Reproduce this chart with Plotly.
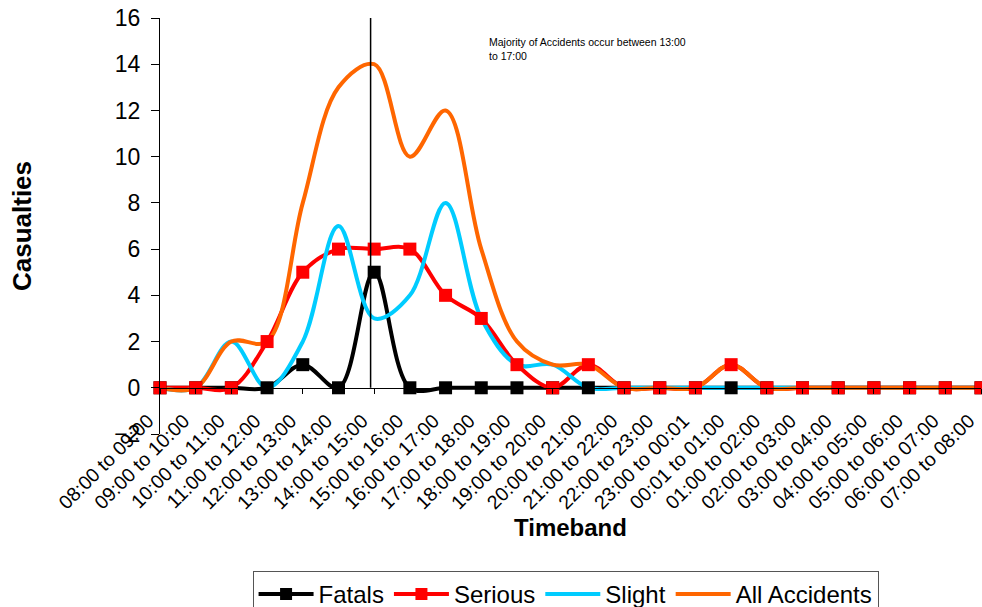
import plotly.graph_objects as go

# Casualties by one-hour timeband
timebands = [
    "08:00 to 09:00", "09:00 to 10:00", "10:00 to 11:00", "11:00 to 12:00",
    "12:00 to 13:00", "13:00 to 14:00", "14:00 to 15:00", "15:00 to 16:00",
    "16:00 to 17:00", "17:00 to 18:00", "18:00 to 19:00", "19:00 to 20:00",
    "20:00 to 21:00", "21:00 to 22:00", "22:00 to 23:00", "23:00 to 00:01",
    "00:01 to 01:00", "01:00 to 02:00", "02:00 to 03:00", "03:00 to 04:00",
    "04:00 to 05:00", "05:00 to 06:00", "06:00 to 07:00", "07:00 to 08:00",
]
fatals = [0, 0, 0, 0, 1, 0, 5, 0, 0, 0, 0, 0, 0, 0, 0, 0, 0, 0, 0, 0, 0, 0, 0, 0]
serious = [0, 0, 0, 2, 5, 6, 6, 6, 4, 3, 1, 0, 1, 0, 0, 0, 1, 0, 0, 0, 0, 0, 0, 0]
slight = [0, 0, 2, 0, 2, 7, 3, 4, 8, 3, 1, 1, 0, 0, 0, 0, 0, 0, 0, 0, 0, 0, 0, 0]
all_accidents = [0, 0, 2, 2, 8, 13, 14, 10, 12, 6, 2, 1, 1, 0, 0, 0, 1, 0, 0, 0, 0, 0, 0, 0]

y_ticks = [-2, 0, 2, 4, 6, 8, 10, 12, 14, 16]
divider_x = 5.9  # marker line near the 14:00 to 15:00 band
note_text = "Majority of Accidents occur between 13:00<br>to 17:00"

x_idx = list(range(len(timebands)))

BLACK = "#000000"
RED = "#FF0000"
CYAN = "#00CCFF"
ORANGE = "#FF6600"
FONT = "Liberation Sans, Arial, sans-serif"

fig = go.Figure()

series = [
    ("Fatals", fatals, BLACK, True),
    ("Serious", serious, RED, True),
    ("Slight", slight, CYAN, False),
    ("All Accidents", all_accidents, ORANGE, False),
]

# all smoothed lines first so markers sit on top
for rank, (name, vals, color, has_marker) in enumerate(series, start=1):
    fig.add_trace(go.Scatter(
        x=x_idx, y=vals, name=name, mode="lines",
        line=dict(color=color, width=4, shape="spline", smoothing=1.0),
        showlegend=not has_marker, legendrank=rank, cliponaxis=False,
        hoverinfo="skip",
    ))

# square markers for the two marked series
for rank, (name, vals, color, has_marker) in enumerate(series, start=1):
    if not has_marker:
        continue
    fig.add_trace(go.Scatter(
        x=x_idx, y=vals, name=name, mode="markers",
        marker=dict(symbol="square", size=13, color=color),
        showlegend=False, cliponaxis=False,
    ))
    # legend entry showing line + marker
    fig.add_trace(go.Scatter(
        x=[None], y=[None], name=name, mode="lines+markers",
        line=dict(color=color, width=4),
        marker=dict(symbol="square", size=12, color=color),
        legendrank=rank,
    ))

# vertical divider line from 0 up to the top of the axis
fig.add_shape(type="line", xref="x", yref="y",
              x0=divider_x, x1=divider_x, y0=0, y1=max(y_ticks),
              line=dict(color=BLACK, width=1.5))

fig.add_annotation(
    x=9.15, y=15.3, xref="x", yref="y", text=note_text,
    showarrow=False, xanchor="left", yanchor="top", align="left",
    font=dict(family=FONT, size=10.5, color=BLACK),
)

y_min, y_max = min(y_ticks), max(y_ticks)
x_axis_pos = (0 - y_min) / (y_max - y_min)

fig.update_layout(
    width=982, height=607,
    margin=dict(l=160, r=1, t=18, b=173, autoexpand=False),
    paper_bgcolor="white", plot_bgcolor="white",
    font=dict(family=FONT, color=BLACK),
    showlegend=True,
    legend=dict(
        orientation="h", x=0.494, xanchor="center", y=-0.329, yanchor="top",
        font=dict(family=FONT, size=24, color=BLACK),
        bordercolor="#555555", borderwidth=1, bgcolor="white",
        itemwidth=55, tracegroupgap=0,
    ),
    xaxis=dict(
        range=[0, 23], tickvals=x_idx, ticktext=timebands, tickangle=-45,
        tickfont=dict(family=FONT, size=19.5, color=BLACK),
        ticklabeloverflow="allow", ticklabelstandoff=8, ticklabelshift=-12,
        showgrid=False, zeroline=False, showline=True, linecolor=BLACK,
        linewidth=1, ticks="outside", ticklen=5, tickcolor=BLACK,
        anchor="free", position=x_axis_pos,
        title=dict(text="<b>Timeband</b>", font=dict(family=FONT, size=24, color=BLACK),
                   standoff=6),
    ),
    yaxis=dict(
        range=[y_min, y_max], tickvals=y_ticks,
        tickfont=dict(family=FONT, size=23, color=BLACK),
        showgrid=False, zeroline=False, showline=True, linecolor=BLACK,
        linewidth=1, ticks="outside", ticklen=8, tickcolor=BLACK,
        ticklabelstandoff=6,
        title=dict(text="<b>Casualties</b>", font=dict(family=FONT, size=26, color=BLACK),
                   standoff=75),
    ),
)

fig.write_html("out.html")
